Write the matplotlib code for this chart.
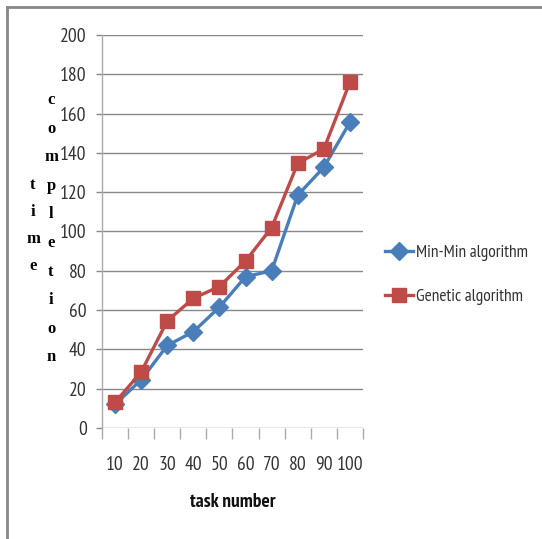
import matplotlib
matplotlib.use("Agg")
import matplotlib.pyplot as plt
from matplotlib.lines import Line2D
import numpy as np

categories = ["10", "20", "30", "40", "50", "60", "70", "80", "90", "100"]
minmin = [12, 24.5, 42, 49, 61.5, 77, 80, 118.5, 132.7, 155.6]
genetic = [13, 28.5, 54.5, 66, 72, 85, 102, 134.7, 142, 176]
series_names = ["Min-Min algorithm", "Genetic algorithm"]
yticks = [0, 20, 40, 60, 80, 100, 120, 140, 160, 180, 200]

narrow = ["PT Sans Narrow", "DejaVu Sans"]
serif = ["Liberation Serif", "DejaVu Serif"]
blue = "#4a7ebb"
red = "#be4b48"

fig = plt.figure(figsize=(5.42, 5.39), dpi=100)
ax = fig.add_axes([102/542, 111/539, 261/542, 393/539])

x = np.arange(len(categories))
ax.plot(x, minmin, color=blue, lw=2.4, marker="D", markersize=9,
        markerfacecolor=blue, markeredgecolor=blue, label=series_names[0], zorder=3)
ax.plot(x, genetic, color=red, lw=2.4, marker="s", markersize=10,
        markerfacecolor=red, markeredgecolor=red, label=series_names[1], zorder=4)

ax.set_xlim(-0.5, len(categories) - 0.5)
ax.set_ylim(0, 200)
ax.set_yticks(yticks)
ax.set_yticklabels([str(v) for v in yticks], family=narrow, fontsize=14, color="#333333")
ax.set_xticks(x)
ax.set_xticklabels(categories, family=narrow, fontsize=14, color="#333333")
ax.set_xticks(np.arange(-0.5, len(categories)), minor=True)
ax.tick_params(axis="x", which="major", length=0, pad=20)
ax.tick_params(axis="x", which="minor", length=8, width=1, color="#aaaaaa", direction="out")
ax.tick_params(axis="y", which="major", length=4, width=1, color="#888888", pad=7)

ax.grid(axis="y", color="#888888", lw=1)
ax.set_axisbelow(True)
for s in ["top", "right", "bottom"]:
    ax.spines[s].set_visible(False)
ax.spines["left"].set_color("#aaaaaa")
ax.spines["left"].set_linewidth(1)

ax.set_xlabel("task number", family=narrow, fontsize=14, fontweight="bold", labelpad=14, color="#111111")

# vertical stacked y-label "completion time"
word1 = "completion"
word2 = "time"
for i, ch in enumerate(word1):
    fig.text(51/542, 1 - (100 + i*28.6)/539, ch, family=serif,
             fontsize=12, fontweight="bold", ha="center", va="center")
for i, ch in enumerate(word2):
    fig.text(33/542, 1 - (185 + i*27)/539, ch, family=serif,
             fontsize=12, fontweight="bold", ha="center", va="center")

leg = ax.legend(loc="center left", bbox_to_anchor=((385-102)/261, (428-275)/393), frameon=False,
                prop={"family": narrow, "size": 12.5}, handlelength=1.6, handletextpad=0.2,
                labelspacing=1.6, borderaxespad=0, borderpad=0)
for t in leg.get_texts():
    t.set_color("#333333")

# border lines
fig.add_artist(Line2D([7/542, 1], [1 - 7/539, 1 - 7/539], color="#888888", lw=2))
fig.add_artist(Line2D([7/542, 7/542], [0, 1 - 7/539], color="#888888", lw=2))

fig.savefig("out.png", dpi=100)
